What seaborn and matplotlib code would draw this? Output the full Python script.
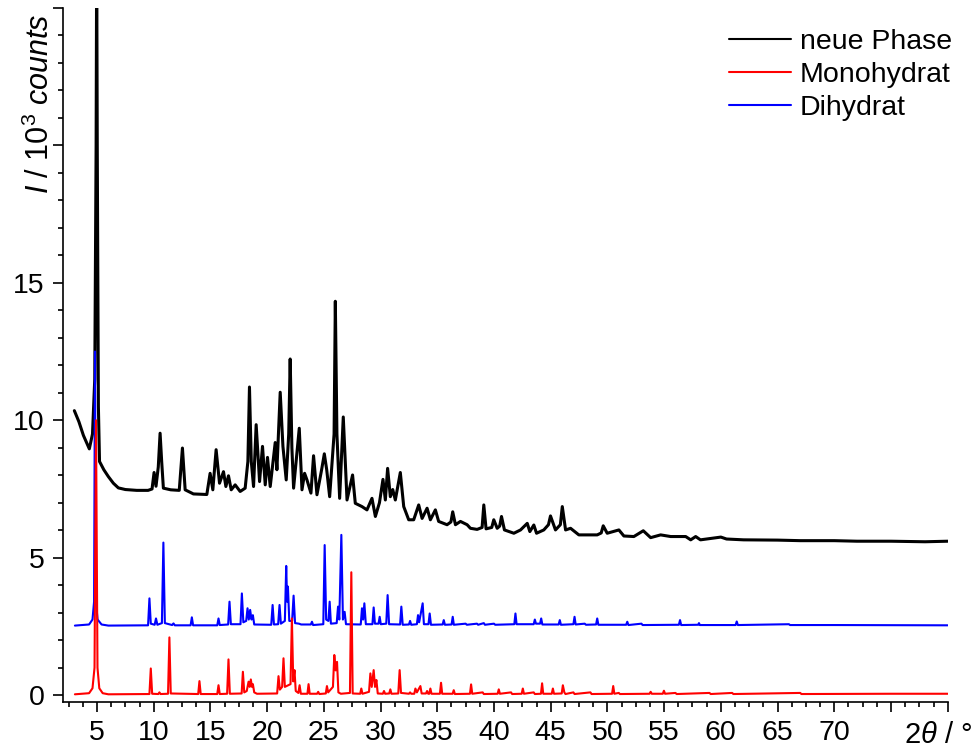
import numpy as np
import pandas as pd
import matplotlib
matplotlib.use("Agg")
import matplotlib.pyplot as plt
from matplotlib.ticker import MultipleLocator, FixedLocator, FixedFormatter
from matplotlib.lines import Line2D
import seaborn as sns

# ---------------- data ----------------
black_x = [3.0, 3.4, 3.8, 4.32, 4.6, 4.8, 4.92, 4.97, 5.02, 5.12, 5.22, 5.6, 6.0, 6.44, 6.88, 7.5, 8.5, 9.5,
           9.85, 10.03, 10.2, 10.4, 10.56, 10.7, 10.85, 11.5, 12.25, 12.53, 12.77, 13.5, 14.68, 14.97, 15.21,
           15.5, 15.8, 16.15, 16.36, 16.59, 16.83, 17.18, 17.62, 18.06, 18.3, 18.44, 18.6, 18.8, 19.03, 19.33,
           19.59, 19.83, 20.03, 20.27, 20.71, 20.86, 21.15, 21.39, 21.68, 21.9, 22.03, 22.18, 22.33, 22.83,
           23.07, 23.3, 23.51, 23.86, 24.09, 24.39, 24.8, 25.04, 25.25, 25.51, 25.9, 26.01, 26.15, 26.39,
           26.71, 27.04, 27.53, 27.77, 28.36, 28.8, 29.24, 29.54, 29.9, 30.21, 30.42, 30.62, 30.86, 31.07,
           31.3, 31.74, 32.04, 32.48, 32.92, 33.36, 33.66, 34.1, 34.39, 34.83, 35.12, 35.86, 36.2, 36.36, 36.6,
           37.04, 37.63, 37.92, 38.51, 38.95, 39.1, 39.3, 39.8, 39.98, 40.28, 40.5, 40.66, 40.92, 41.75, 42.34,
           42.93, 43.16, 43.51, 43.75, 44.39, 44.8, 44.98, 45.42, 45.85, 46.02, 46.31, 46.75, 47.48, 49.1, 49.45,
           49.63, 49.98, 51.01, 51.45, 52.33, 53.16, 53.81, 54.69, 55.58, 56.9, 57.34, 57.78, 58.2, 60.0, 60.5,
           62.0, 65.0, 67.0, 70.0, 72.0, 75.0, 78.0, 80.0]
black_y = [10.35, 9.95, 9.45, 8.96, 9.5, 11.5, 20.0, 27.0, 20.0, 10.5, 8.5, 8.2, 7.95, 7.71, 7.54, 7.48, 7.45, 7.45,
           7.5, 8.1, 7.6, 8.3, 9.53, 8.5, 7.53, 7.47, 7.45, 8.99, 7.47, 7.32, 7.3, 8.07, 7.47,
           8.93, 7.71, 8.13, 7.59, 7.98, 7.47, 7.65, 7.41, 7.53, 8.5, 11.21, 8.5, 7.59, 9.84, 7.77,
           9.05, 7.65, 8.65, 7.59, 9.19, 8.2, 11.02, 9.05, 7.83, 9.5, 12.23, 9.0, 7.53, 9.71,
           7.47, 8.07, 7.83, 7.35, 8.71, 7.29, 8.2, 8.78, 8.2, 7.22, 9.5, 14.33, 9.5, 7.16,
           10.12, 7.1, 8.01, 6.98, 6.86, 6.74, 7.16, 6.5, 7.0, 7.85, 7.1, 8.25, 7.22, 7.48,
           7.1, 8.1, 6.86, 6.38, 6.38, 6.92, 6.43, 6.8, 6.38, 6.74, 6.32, 6.2, 6.3, 6.67, 6.2,
           6.32, 6.2, 6.07, 6.03, 6.1, 6.92, 6.05, 6.1, 6.38, 6.07, 6.15, 6.5, 6.01, 5.89, 6.01,
           6.25, 5.95, 6.19, 5.89, 6.01, 6.2, 6.52, 6.01, 6.2, 6.86, 6.01, 6.07, 5.83, 5.83, 5.9,
           6.16, 5.89, 6.01, 5.79, 5.77, 5.98, 5.73, 5.83, 5.77, 5.77, 5.65, 5.77, 5.65, 5.75, 5.68,
           5.65, 5.64, 5.62, 5.62, 5.6, 5.6, 5.58, 5.6]

blue_x = [3.05, 4.3, 4.6, 4.74, 4.82, 4.9, 5.05, 5.4, 6.0,
          9.5, 9.62, 9.74, 10.08, 10.2, 10.32, 10.72, 10.85, 10.98, 11.62, 11.74, 11.86,
          13.25, 13.36, 13.47, 15.6, 15.71, 15.82, 16.56, 16.68, 16.8, 17.65, 17.77, 17.9, 18.15, 18.27, 18.38,
          18.5, 18.62, 18.74, 18.86,
          20.36, 20.48, 20.6, 20.97, 21.09, 21.21, 21.56, 21.68, 21.76, 21.83, 21.95, 22.2, 22.33, 22.46, 22.8,
          23.0, 23.85, 23.95, 24.05,
          24.95, 25.07, 25.2, 25.4, 25.51, 25.62, 26.13, 26.25, 26.36, 26.54, 26.68, 26.83, 26.95,
          28.25, 28.36, 28.46, 28.57, 28.7, 29.28, 29.39, 29.5, 29.82, 29.92, 30.02, 30.5, 30.62, 30.75, 31.72,
          31.83, 31.95,
          32.5, 32.6, 32.7, 33.2, 33.3, 33.4, 33.71, 33.82, 34.22, 34.33, 34.44,
          35.47, 35.57, 35.67, 36.26, 36.36, 36.46, 37.5, 37.6, 38.5, 38.6, 39.1, 39.2, 40.0, 40.1, 41.79, 41.89,
          41.99, 43.5, 43.6, 43.7, 44.06, 44.16, 44.26, 45.7, 45.8, 45.9, 47.0, 47.1, 47.2, 48.0, 48.1, 49.0,
          49.1, 49.2, 51.65, 51.75, 51.85, 53.0, 53.1, 56.3, 56.4, 56.5, 58.0, 58.07, 58.15, 61.3, 61.4, 61.5,
          66.0, 66.1, 70.0, 80.0]
blue_y = [2.53, 2.57, 2.75, 3.4, 12.5, 3.4, 2.75, 2.57, 2.53,
          2.54, 3.52, 2.6, 2.56, 2.79, 2.56, 2.62, 5.55, 2.62, 2.55, 2.61, 2.54,
          2.54, 2.83, 2.54, 2.54, 2.79, 2.55, 2.57, 3.4, 2.58, 2.58, 3.7, 2.65, 2.7, 3.16, 2.75,
          3.1, 2.75, 2.91, 2.57,
          2.56, 3.28, 2.57, 2.58, 3.28, 2.6, 2.7, 4.7, 3.4, 3.95, 2.7, 2.7, 3.62, 2.62, 2.6,
          2.57, 2.57, 2.67, 2.55,
          2.58, 5.46, 2.75, 2.7, 3.4, 2.6, 2.62, 3.22, 2.75, 5.83, 2.75, 3.03, 2.58,
          2.57, 3.16, 2.75, 3.34, 2.58, 2.58, 3.19, 2.6, 2.6, 2.85, 2.58, 2.6, 3.64, 2.58, 2.57,
          3.22, 2.56,
          2.57, 2.7, 2.56, 2.58, 2.91, 2.65, 3.34, 2.58, 2.58, 2.97, 2.56,
          2.57, 2.73, 2.56, 2.57, 2.85, 2.56, 2.6, 2.56, 2.6, 2.56, 2.62, 2.56, 2.6, 2.56, 2.58, 2.97,
          2.58, 2.58, 2.75, 2.6, 2.6, 2.79, 2.57, 2.57, 2.73, 2.56, 2.58, 2.85, 2.57, 2.6, 2.56, 2.57,
          2.79, 2.56, 2.56, 2.67, 2.55, 2.6, 2.55, 2.56, 2.73, 2.55, 2.56, 2.62, 2.55, 2.55, 2.68, 2.55,
          2.58, 2.55, 2.55, 2.54]

red_x = [3.05, 4.3, 4.6, 4.78, 4.91, 5.04, 5.2, 5.5, 6.0,
         9.62, 9.74, 9.86, 10.4, 10.5, 10.6, 11.26, 11.38, 11.5,
         13.92, 14.03, 14.14, 15.6, 15.71, 15.82, 16.47, 16.59, 16.71,
         17.75, 17.86, 17.98, 18.2, 18.36, 18.46, 18.56, 18.66, 18.74, 18.86, 19.1,
         20.88, 21.0, 21.12, 21.32, 21.44, 21.56, 21.8, 22.06, 22.18, 22.3, 22.41, 22.52, 22.75, 22.86, 22.97,
         23.55, 23.65, 23.75,
         24.4, 24.5, 24.6, 25.17, 25.27, 25.38, 25.8, 25.92, 26.04, 26.16, 26.28, 26.5,
         27.3, 27.42, 27.54, 28.2, 28.3, 28.4, 28.98, 29.1, 29.22, 29.39, 29.51, 29.63, 29.75,
         30.2, 30.3, 30.4, 30.76, 30.86, 30.96, 31.56, 31.68, 31.8, 32.5, 32.6, 32.7,
         32.97, 33.07, 33.2, 33.51, 33.62, 34.0, 34.1, 34.2, 34.29, 34.39, 34.49,
         35.23, 35.33, 35.43, 36.35, 36.45, 36.55, 37.88, 37.98, 38.08,
         39.0, 39.1, 40.32, 40.42, 40.52, 41.5, 41.6, 42.44, 42.54, 42.64,
         43.5, 43.6, 44.14, 44.24, 44.34, 45.09, 45.19, 45.29, 45.97, 46.07, 46.2, 46.3,
         47.0, 47.1, 48.5, 48.6, 50.41, 50.51, 50.61, 51.0, 51.1, 53.71, 53.81, 53.91, 54.88, 54.98, 55.08,
         56.0, 56.1, 59.0, 59.1, 61.0, 61.1, 67.0, 67.1, 75.0, 80.0]
red_y = [0.03, 0.07, 0.25, 1.0, 10.0, 1.0, 0.25, 0.07, 0.03,
         0.04, 0.97, 0.05, 0.04, 0.1, 0.04, 0.05, 2.1, 0.06,
         0.04, 0.51, 0.04, 0.04, 0.36, 0.04, 0.05, 1.3, 0.05,
         0.06, 0.85, 0.1, 0.15, 0.49, 0.3, 0.57, 0.3, 0.4, 0.1, 0.05,
         0.06, 0.69, 0.2, 0.3, 1.34, 0.3, 0.35, 0.4, 2.79, 0.5, 0.91, 0.15, 0.08, 0.36, 0.05,
         0.05, 0.4, 0.05,
         0.05, 0.12, 0.04, 0.06, 0.33, 0.1, 0.3, 1.46, 0.9, 1.21, 0.1, 0.05,
         0.08, 4.47, 0.06, 0.05, 0.24, 0.05, 0.12, 0.79, 0.3, 0.91, 0.3, 0.55, 0.06,
         0.05, 0.15, 0.05, 0.06, 0.21, 0.05, 0.06, 0.91, 0.08, 0.05, 0.1, 0.05,
         0.05, 0.24, 0.1, 0.33, 0.06, 0.06, 0.15, 0.05, 0.05, 0.24, 0.05,
         0.05, 0.45, 0.05, 0.05, 0.18, 0.04, 0.05, 0.39, 0.05,
         0.1, 0.04, 0.05, 0.21, 0.05, 0.1, 0.04, 0.05, 0.24, 0.05,
         0.1, 0.04, 0.05, 0.43, 0.05, 0.05, 0.24, 0.05, 0.06, 0.36, 0.1, 0.04,
         0.1, 0.04, 0.1, 0.04, 0.05, 0.33, 0.05, 0.08, 0.04, 0.05, 0.12, 0.05, 0.05, 0.16, 0.05,
         0.08, 0.04, 0.08, 0.04, 0.08, 0.04, 0.08, 0.04, 0.05, 0.05]

series_names = ["neue Phase", "Monohydrat", "Dihydrat"]
series_colors = ["#000000", "#ff0000", "#0000ff"]

x_ticks = [5, 10, 15, 20, 25, 30, 35, 40, 45, 50, 55, 60, 65, 70, 75, 80]
x_labels = ["5", "10", "15", "20", "25", "30", "35", "40", "45", "50", "55", "60", "65", "70", "", ""]
y_ticks = [0, 5, 10, 15, 20, 25]
y_labels = ["0", "5", "10", "15", "", ""]

# ---------------- style ----------------
sns.set_style("ticks")
plt.rcParams["font.family"] = ["Liberation Sans", "DejaVu Sans"]
plt.rcParams["mathtext.fontset"] = "custom"
plt.rcParams["mathtext.rm"] = "Liberation Sans"
plt.rcParams["mathtext.it"] = "Liberation Sans:italic"
for key in ["text.color", "axes.labelcolor", "xtick.color", "ytick.color", "axes.edgecolor"]:
    plt.rcParams[key] = "black"

fig = plt.figure(figsize=(9.74, 7.49), dpi=100)
ax = fig.add_axes([63 / 974, 1 - 702 / 749, (947.7 - 63) / 974, (702 - 8) / 749])

df_black = pd.DataFrame({"x": black_x, "y": black_y})
df_blue = pd.DataFrame({"x": blue_x, "y": blue_y})
df_red = pd.DataFrame({"x": red_x, "y": red_y})

sns.lineplot(data=df_black, x="x", y="y", ax=ax, color=series_colors[0], lw=2.2, estimator=None, sort=False)
sns.lineplot(data=df_blue, x="x", y="y", ax=ax, color=series_colors[2], lw=1.5, estimator=None, sort=False)
sns.lineplot(data=df_red, x="x", y="y", ax=ax, color=series_colors[1], lw=1.5, estimator=None, sort=False)

ax.set_xlim(2, 80)
ax.set_ylim(-0.25, 25)
ax.set_xlabel("")
ax.set_ylabel("")

ax.xaxis.set_major_locator(FixedLocator(x_ticks))
ax.xaxis.set_major_formatter(FixedFormatter(x_labels))
ax.xaxis.set_minor_locator(MultipleLocator(1.25))
ax.yaxis.set_major_locator(FixedLocator(y_ticks))
ax.yaxis.set_major_formatter(FixedFormatter(y_labels))
ax.yaxis.set_minor_locator(MultipleLocator(1))

for side in ["top", "right"]:
    ax.spines[side].set_visible(False)
for side in ["left", "bottom"]:
    ax.spines[side].set_linewidth(1.2)
    ax.spines[side].set_color("black")

ax.tick_params(which="major", direction="out", length=7, width=1.2, labelsize=20.5, color="black",
               labelcolor="black", pad=6)
ax.tick_params(which="minor", direction="out", length=3.5, width=1.2, color="black")

fig.text(40 / 974, 1 - 13 / 749, r"$I$ / 10$^3$ $counts$", rotation=90, ha="center", va="top", fontsize=22)
fig.text(904 / 974, 1 - 735 / 749, r"2$\theta$ / °", ha="left", va="center", fontsize=21)

handles = [Line2D([], [], color=c, lw=1.5) for c in series_colors]
ax.legend(handles, series_names, loc="upper right", bbox_to_anchor=(952 / 974, 1 - 29 / 749),
          bbox_transform=fig.transFigure, frameon=False, fontsize=20.5, handlelength=2.2,
          handletextpad=0.3, labelspacing=0.25, borderpad=0, borderaxespad=0)

fig.savefig("out.png", dpi=100)
